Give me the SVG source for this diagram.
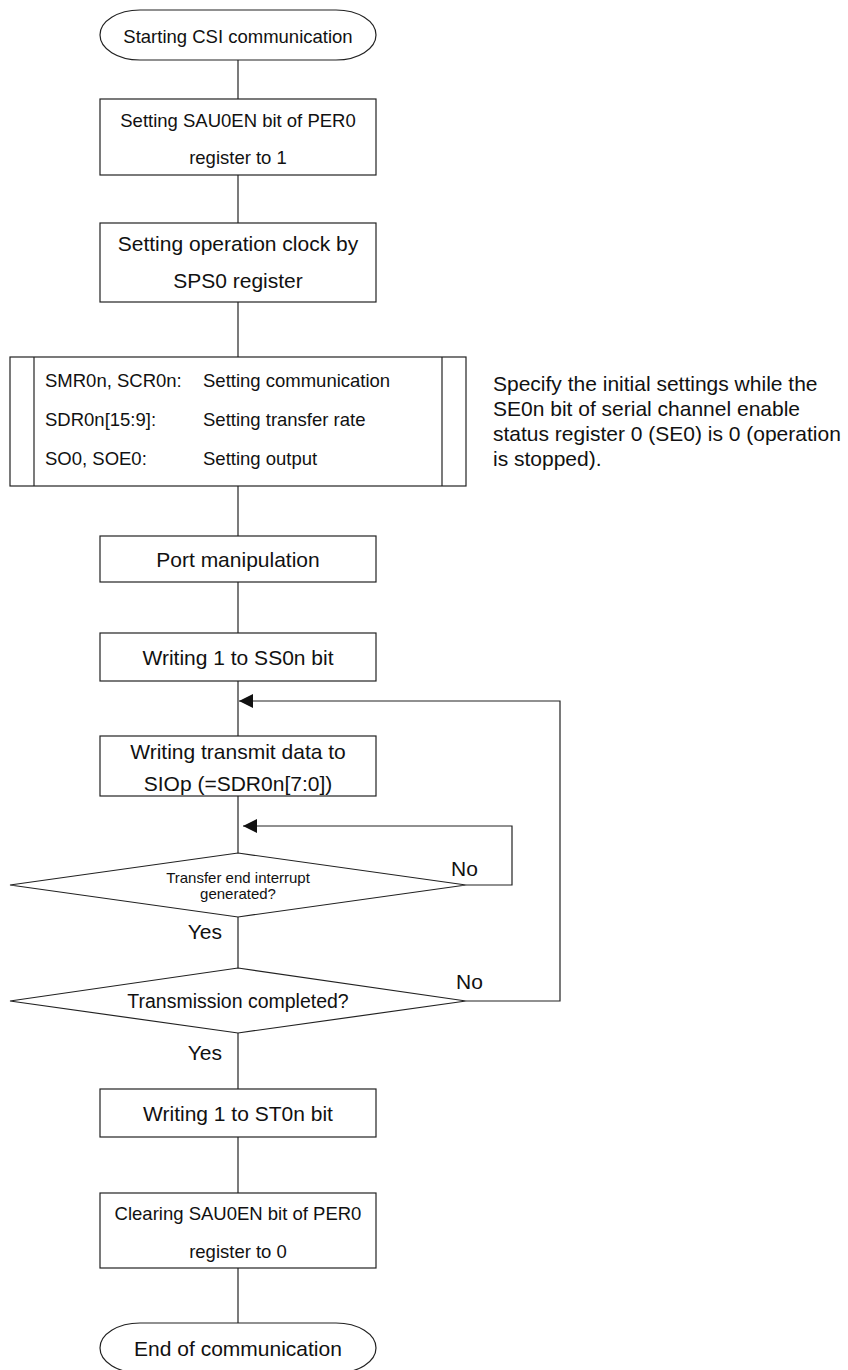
<svg xmlns="http://www.w3.org/2000/svg" width="848" height="1370" viewBox="0 0 848 1370">
<style>
.s{fill:#fff;stroke:#222;stroke-width:1.2}
.c{fill:none;stroke:#222;stroke-width:1.2}
text{font-family:"Liberation Sans",Arial,Helvetica,sans-serif;fill:#111;dominant-baseline:central}
.m{text-anchor:middle}
.f18{font-size:18.5px}
.f21{font-size:21px}
.f15{font-size:15px}
.f19{font-size:19.5px}
</style>
<defs>
<marker id="ah" viewBox="0 0 10 10" refX="10" refY="5" markerWidth="17" markerHeight="14" markerUnits="userSpaceOnUse" orient="auto">
<path d="M0,0 L10,5 L0,10 Z" fill="#111"/>
</marker>
</defs>
<g id="connectors">
<line class="c" x1="238" y1="60" x2="238" y2="99"/>
<line class="c" x1="238" y1="175" x2="238" y2="223"/>
<line class="c" x1="238" y1="302" x2="238" y2="357"/>
<line class="c" x1="238" y1="486" x2="238" y2="536"/>
<line class="c" x1="238" y1="582" x2="238" y2="633"/>
<line class="c" x1="238" y1="681" x2="238" y2="736"/>
<line class="c" x1="238" y1="796" x2="238" y2="853"/>
<line class="c" x1="238" y1="917" x2="238" y2="968"/>
<line class="c" x1="238" y1="1033" x2="238" y2="1089"/>
<line class="c" x1="238" y1="1137" x2="238" y2="1193"/>
<line class="c" x1="238" y1="1268" x2="238" y2="1323"/>
<polyline class="c" points="466,885 512,885 512,826 243,826" marker-end="url(#ah)"/>
<polyline class="c" points="466,1001 560,1001 560,701 239,701" marker-end="url(#ah)"/>
</g>
<g id="start">
<rect class="s" x="100" y="10" width="276" height="50" rx="40" ry="25"/>
<text class="m f18" x="238" y="36">Starting CSI communication</text>
</g>
<g id="per0-set">
<rect class="s" x="100" y="99" width="276" height="76"/>
<text class="m f18" x="238" y="120">Setting SAU0EN bit of PER0</text>
<text class="m f18" x="238" y="157">register to 1</text>
</g>
<g id="sps0">
<rect class="s" x="100" y="223" width="276" height="79"/>
<text class="m f21" x="238" y="243">Setting operation clock by</text>
<text class="m f21" x="238" y="280">SPS0 register</text>
</g>
<g id="init">
<rect class="s" x="10" y="357" width="456" height="129"/>
<line class="c" x1="34" y1="357" x2="34" y2="486"/>
<line class="c" x1="442" y1="357" x2="442" y2="486"/>
<text class="f18" x="45" y="380">SMR0n, SCR0n:</text>
<text class="f18" x="203" y="380">Setting communication</text>
<text class="f18" x="45" y="419">SDR0n[15:9]:</text>
<text class="f18" x="203" y="419">Setting transfer rate</text>
<text class="f18" x="45" y="458">SO0, SOE0:</text>
<text class="f18" x="203" y="458">Setting output</text>
</g>
<g id="note">
<text class="f21" x="493" y="383">Specify the initial settings while the</text>
<text class="f21" x="493" y="408">SE0n bit of serial channel enable</text>
<text class="f21" x="493" y="433">status register 0 (SE0) is 0 (operation</text>
<text class="f21" x="493" y="458">is stopped).</text>
</g>
<g id="port">
<rect class="s" x="100" y="536" width="276" height="46"/>
<text class="m f21" x="238" y="559">Port manipulation</text>
</g>
<g id="ss0n">
<rect class="s" x="100" y="633" width="276" height="48"/>
<text class="m f21" x="238" y="657">Writing 1 to SS0n bit</text>
</g>
<g id="write-data">
<rect class="s" x="100" y="736" width="276" height="60"/>
<text class="m f21" x="238" y="751">Writing transmit data to</text>
<text class="m f21" x="238" y="783">SIOp (=SDR0n[7:0])</text>
</g>
<g id="dec-interrupt">
<polygon class="s" points="238,853 466,885 238,917 10,885"/>
<text class="m f15" x="238" y="877">Transfer end interrupt</text>
<text class="m f15" x="238" y="893">generated?</text>
<text class="f21" x="451" y="868">No</text>
<text class="f21" x="222" y="931" text-anchor="end">Yes</text>
</g>
<g id="dec-complete">
<polygon class="s" points="238,968 466,1001 238,1033 10,1001"/>
<text class="m f19" x="238" y="1001">Transmission completed?</text>
<text class="f21" x="456" y="981">No</text>
<text class="f21" x="222" y="1052" text-anchor="end">Yes</text>
</g>
<g id="st0n">
<rect class="s" x="100" y="1089" width="276" height="48"/>
<text class="m f21" x="238" y="1113">Writing 1 to ST0n bit</text>
</g>
<g id="per0-clear">
<rect class="s" x="100" y="1193" width="276" height="75"/>
<text class="m f18" x="238" y="1213">Clearing SAU0EN bit of PER0</text>
<text class="m f18" x="238" y="1251">register to 0</text>
</g>
<g id="end">
<rect class="s" x="100" y="1323" width="276" height="50" rx="40" ry="25"/>
<text class="m f21" x="238" y="1348">End of communication</text>
</g>
</svg>
